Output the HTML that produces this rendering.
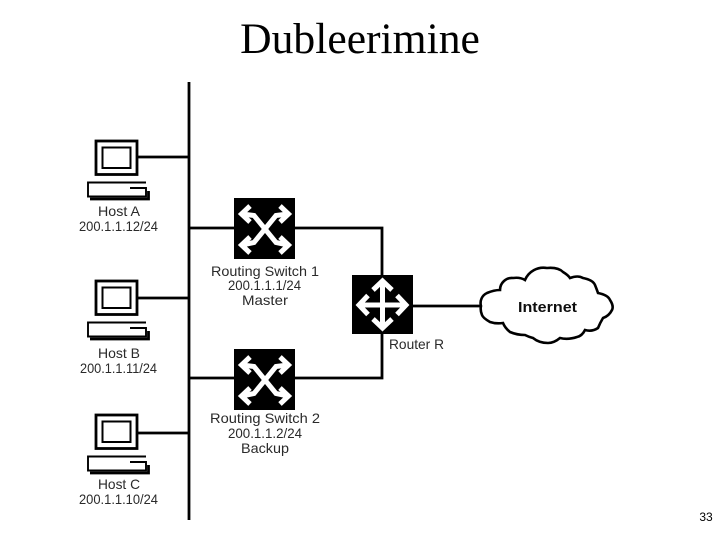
<!DOCTYPE html>
<html>
<head>
<meta charset="utf-8">
<style>
html,body{margin:0;padding:0;background:#fff;width:720px;height:540px;overflow:hidden}
svg{display:block}
.t{font-family:"Liberation Sans",sans-serif;font-size:14px;fill:#2a2a2a;text-anchor:middle}
</style>
</head>
<body>
<svg width="720" height="540" viewBox="0 0 720 540" xmlns="http://www.w3.org/2000/svg">
<defs>
  <filter id="soft" x="-5%" y="-5%" width="110%" height="110%"><feGaussianBlur stdDeviation="0.3"/></filter>
  <g id="host">
    <rect x="96" y="141" width="41" height="33.500" fill="#fff" stroke="#000" stroke-width="2.800"/>
    <rect x="102.500" y="147.500" width="28" height="20.500" fill="#fff" stroke="#000" stroke-width="2"/>
    <path d="M146 182.500H88V196.500H146V188H130" fill="none" stroke="#000" stroke-width="1.900"/>
    <path d="M148.500 191V199H90" fill="none" stroke="#000" stroke-width="2.800"/>
  </g>
  <g id="xa" fill="none" stroke="#fff" stroke-width="5">
    <path d="M242 214L254 215.500L276 242.500L288 245"/>
    <path d="M288 214L276 215.500L254 242.500L242 245"/>
    <path d="M250 206L241.500 214L250 222M280 206L288.500 214L280 222M250 237L241.500 245L250 253M280 237L288.500 245L280 253"/>
  </g>
  <g id="sw">
    <rect x="234" y="198" width="61" height="61" fill="#000"/>
    <use href="#xa"/>
  </g>
</defs>

<text x="360" y="53" text-anchor="middle" font-family="'Liberation Serif',serif" font-size="43.600" fill="#000">Dubleerimine</text>

<g filter="url(#soft)">
<g stroke="#000" stroke-width="2.800" fill="none">
  <path d="M189 82V520"/>
  <path d="M138 157H189M138 298H189M138 433H189"/>
  <path d="M189 228H234M295 228H382V275"/>
  <path d="M189 378H234M295 378H382V334"/>
  <path d="M413 306H482"/>
</g>

<use href="#host"/>
<use href="#host" y="140"/>
<use href="#host" y="274"/>

<use href="#sw"/>
<use href="#sw" y="151"/>

<rect x="352" y="275" width="61" height="59" fill="#000"/>
<g fill="none" stroke="#fff" stroke-width="5">
  <path d="M382.500 281V328M359 305H406"/>
  <path d="M373 290L382.500 281L392 290M373 319L382.500 328L392 319M368 295.500L359 305L368 314.500M397 295.500L406 305L397 314.500"/>
</g>

<path d="M481 306A11 11 0 0 1 487 293Q494 290 500 290A12 12 0 0 1 513 278Q520 277 525 280A20 20 0 0 1 547 268Q558 267 563 272Q568 275 570 278Q578 275 583 278Q593 280 595 285Q597 290 598 293Q608 295 610 300Q614 306 612 310Q609 316 603 318Q600 323 598 328Q592 332 585 330Q582 336 577 337Q568 340 560 338Q554 343 548 343Q539 343 533 338Q529 337 525 335Q517 335 510 332Q505 328 503 323Q496 324 490 322Q483 318 482 315Q480 310 481 306Z" fill="#fff" stroke="#000" stroke-width="2.600"/>
<text x="547.500" y="312" text-anchor="middle" font-family="'Liberation Sans',sans-serif" font-weight="bold" font-size="14.500" textLength="59" lengthAdjust="spacingAndGlyphs" fill="#111">Internet</text>

<g>
  <text class="t" x="119" y="216" textLength="42" lengthAdjust="spacingAndGlyphs">Host A</text>
  <text class="t" x="118.500" y="231" textLength="79" lengthAdjust="spacingAndGlyphs">200.1.1.12/24</text>
  <text class="t" x="119" y="358" textLength="42" lengthAdjust="spacingAndGlyphs">Host B</text>
  <text class="t" x="118.500" y="373" textLength="77" lengthAdjust="spacingAndGlyphs">200.1.1.11/24</text>
  <text class="t" x="119" y="489" textLength="42" lengthAdjust="spacingAndGlyphs">Host C</text>
  <text class="t" x="118.500" y="504" textLength="79" lengthAdjust="spacingAndGlyphs">200.1.1.10/24</text>
  <text class="t" x="265" y="276" textLength="108" lengthAdjust="spacingAndGlyphs">Routing Switch 1</text>
  <text class="t" x="264.500" y="290" textLength="73" lengthAdjust="spacingAndGlyphs">200.1.1.1/24</text>
  <text class="t" x="265" y="305" textLength="46" lengthAdjust="spacingAndGlyphs">Master</text>
  <text class="t" x="265" y="423" textLength="110" lengthAdjust="spacingAndGlyphs">Routing Switch 2</text>
  <text class="t" x="265" y="438" textLength="74" lengthAdjust="spacingAndGlyphs">200.1.1.2/24</text>
  <text class="t" x="265" y="453" textLength="48" lengthAdjust="spacingAndGlyphs">Backup</text>
  <text class="t" x="416.500" y="349" textLength="55" lengthAdjust="spacingAndGlyphs">Router R</text>
</g>
</g>

<text x="706" y="521" text-anchor="middle" font-family="'Liberation Sans',sans-serif" font-size="12" fill="#000">33</text>
</svg>
</body>
</html>
